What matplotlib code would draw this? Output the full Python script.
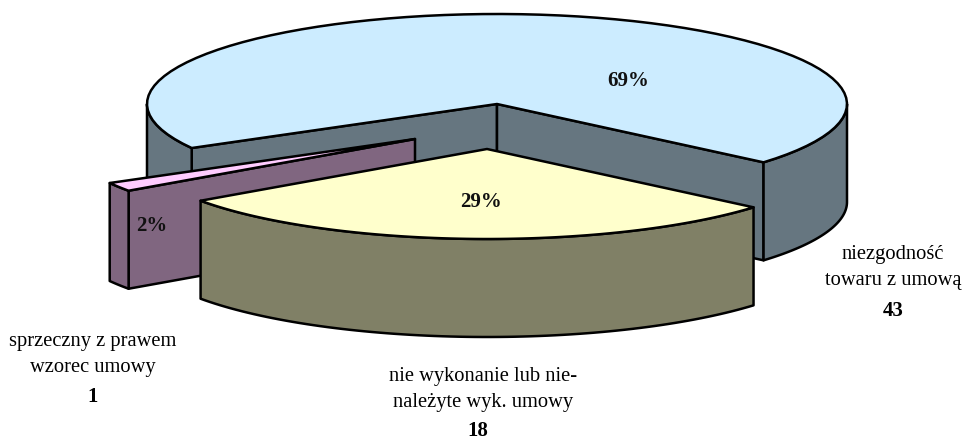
#!/usr/bin/env python3
import numpy as np
import matplotlib
matplotlib.use("Agg")
import matplotlib.pyplot as plt
from matplotlib.patches import Polygon

plt.rcParams['font.family'] = ['Liberation Serif', 'DejaVu Serif']

# order runs counter-clockwise from the right corner of the big slice
names = ["niezgodność\ntowaru z umową", "sprzeczny z prawem\nwzorec umowy", "nie wykonanie lub nie-\nnależyte wyk. umowy"]
values = [43, 1, 18]
percents = ["69%", "2%", "29%"]

top_colors = ["#CCECFF", "#FFCCFF", "#FFFFCC"]
side_colors = ["#667680", "#806680", "#808066"]
centers = [(497, 105), (415, 140), (487, 150)]
radii = [(350, 90), (350, 90), (350, 90)]
pct_pos = [(628, 81), (152, 226), (481, 202)]
label_pos = [(893, 268), (93, 355), (483, 390)]
num_pos = [(893, 311), (93, 397), (478, 431)]

start_angle = -40.4
depth = 98
lw = 1.8

fig = plt.figure(figsize=(9.65, 4.39), dpi=100)
ax = fig.add_axes([0, 0, 1, 1])
ax.set_xlim(0, 965)
ax.set_ylim(439, 0)
ax.axis('off')


def rim(i, t0, t1):
    t = np.radians(np.linspace(t0, t1, 80))
    cx, cy = centers[i]
    rx, ry = radii[i]
    return np.column_stack([cx + rx * np.cos(t), cy - ry * np.sin(t)])


def shape(pts, color, z):
    ax.add_patch(Polygon(pts, closed=True, facecolor=color, edgecolor='black',
                         linewidth=lw, joinstyle='round', zorder=z))


def outer_wall(i, t0, t1, z):
    arc = rim(i, t0, t1)
    shape(np.vstack([arc, (arc + [0, depth])[::-1]]), side_colors[i], z)


def radial_wall(i, t, z):
    apex = np.array(centers[i], dtype=float)
    end = rim(i, t, t)[0]
    shape([apex, end, end + [0, depth], apex + [0, depth]], side_colors[i], z)


angles = start_angle + np.cumsum([0] + values) / sum(values) * 360

for i in range(len(values)):
    t0, t1 = angles[i], angles[i + 1]
    z = i * 10
    if i == 0:
        # back slice shows both cut faces and the two ends of its rim
        radial_wall(i, t1, z)
        radial_wall(i, t0, z + 1)
        outer_wall(i, t0, 0, z + 2)
        outer_wall(i, 180, t1, z + 2)
    elif i == 1:
        radial_wall(i, t1, z)
        outer_wall(i, t0, t1, z + 1)
    else:
        outer_wall(i, t0, t1, z)
    shape(np.vstack([[centers[i]], rim(i, t0, t1)]), top_colors[i], z + 3)

for i in range(len(values)):
    ax.text(*pct_pos[i], percents[i], fontsize=15, fontweight='bold', color='#111111',
            ha='center', va='center', zorder=50)
    ax.text(*label_pos[i], names[i], fontsize=14.8, ha='center', va='center',
            linespacing=1.5, zorder=50)
    ax.text(*num_pos[i], str(values[i]), fontsize=15, fontweight='bold',
            ha='center', va='center', zorder=50)

fig.savefig("out.png", dpi=100)
